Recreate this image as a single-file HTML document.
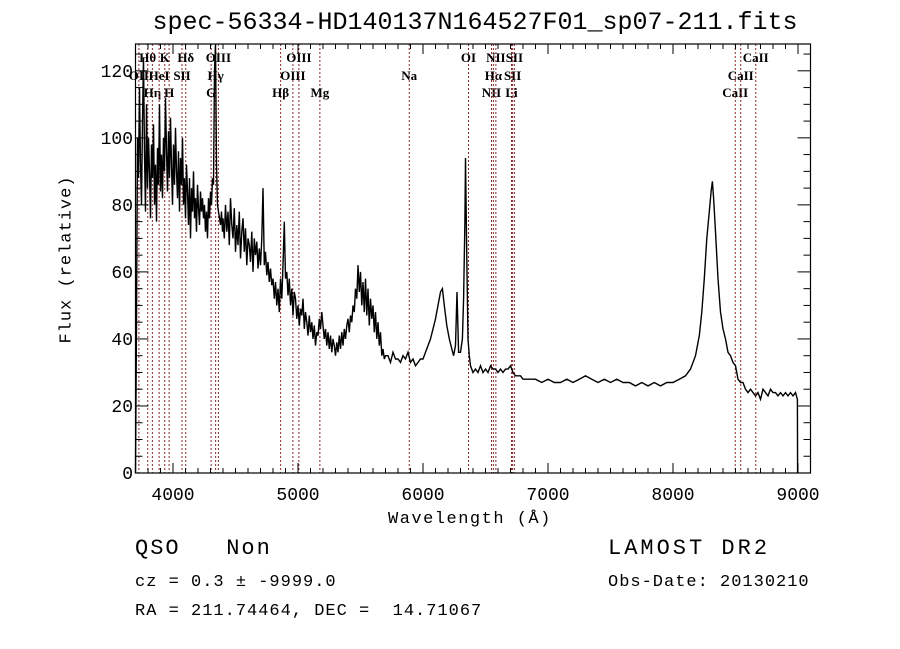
<!DOCTYPE html>
<html><head><meta charset="utf-8"><style>
html,body{margin:0;padding:0;background:#fff;}
svg{display:block;}
</style></head><body>
<svg id="chart" width="900" height="649" xmlns="http://www.w3.org/2000/svg"></svg>
<script>
// ---- data ----
const blueStart = 3700, blueStep = 8;
const blueFlux = [0,45,100,88,115,92,80,105,124,95,78,110,85,100,90,76,98,88,104,80,92,75,97,86,110,84,95,82,100,90,112,96,84,102,88,106,92,80,98,86,103,90,82,96,78,94,86,100,80,88,76,92,84,74,88,70,85,78,90,76,82,72,86,79,74,84,78,82,76,80,72,78,70,82,76,84,80,88,86,120,128,92,80,78,76,74,78,72];
const midStart = 4400, midStep = 10;
const midFlux = [76,70,80,72,78,68,82,74,70,79,66,
74,68,78,64,72,76,66,73,62,70,
68,63,72,60,70,65,69,61,67,62,
70,85,62,66,59,63,57,61,56,58,
52,57,50,55,48,58,52,62,75,58,
60,53,58,50,55,47,54,52,46,50,
44,49,47,52,43,48,45,41,47,42,
45,40,44,38,42,41,46,43,48,44,
40,43,38,42,37,41,36,40,38,35,
39,36,41,37,42,38,43,40,44,46,
42,47,45,50,48,55,52,62,54,60,
50,57,48,58,47,55,44,52,46,50,
42,48,40,45,38,42,35,37,34,35];
const redWave = [5720,5740,5760,5780,5800,5820,5840,5860,5880,5900,5920,5940,5960,5980,6000,6020,6040,6060,6080,6100,6120,6140,6155,6170,6190,6210,6230,6245,6260,6272,6285,6300,6315,6325,6335,6340,6345,6352,6360,6370,6380,6400,6420,6440,6460,6480,6500,6520,6540,6560,6580,6600,6620,6640,6660,6680,6700,6720,6740,6760,6780,6800,6850,6900,6950,7000,7050,7100,7150,7200,7250,7300,7350,7400,7450,7500,7550,7600,7650,7700,7750,7800,7850,7900,7950,8000,8050,8100,8140,8180,8210,8230,8250,8270,8290,8305,8315,8325,8340,8360,8380,8400,8420,8440,8460,8480,8500,8520,8540,8560,8580,8600,8620,8640,8660,8680,8700,8720,8740,8760,8780,8800,8820,8840,8860,8880,8900,8920,8940,8960,8980,8995,8997];
const redFlux = [35,33,36,34,34,33,35,34,36,33,34,32,33,34,34,36,38,40,43,46,50,54,55,50,44,40,37,35,38,54,36,36,40,52,75,94,80,60,40,35,32,30,31,30,32,30,31,30,32,31,31,30,31,30,31,31,32,30,29,29,29,28,28,28,27,28,27,27,28,27,28,29,28,27,28,27,28,27,27,26,27,26,27,26,27,27,28,29,31,35,41,48,58,70,78,84,87,82,72,58,48,43,40,36,35,33,32,28,27,27,25,24,25,24,23,24,22,25,24,23,25,24,24,23,24,23,24,23,24,23,24,22,0];
const lineNames = ["OII","Hθ","Hη","HeI","K","H","SII","Hδ","G","Hγ","OIII","Hβ","OIII","OIII","Mg","Na","OI","NII","Hα","NII","Li","SII","SII","CaII","CaII","CaII"];
const lineWaves = [3727,3798,3835,3889,3934,3969,4072,4102,4305,4341,4363,4861,4959,5007,5175,5890,6364,6548,6563,6583,6708,6717,6731,8498,8542,8662];
const lineRows  = [2,1,3,2,1,3,2,1,3,2,1,3,2,1,3,2,1,3,2,1,3,2,1,3,2,1];
const xTicks = [4000,5000,6000,7000,8000,9000];
const yTicks = [0,20,40,60,80,100,120];

// ---- axes ----
const L=135.5,R=810.5,T=44,B=473, X0=3700,X1=9100,Y0=0,Y1=128;
const sx=w=>L+(w-X0)/(X1-X0)*(R-L);
const sy=f=>B-(f-Y0)/(Y1-Y0)*(B-T);
const NS="http://www.w3.org/2000/svg";
const svg=document.getElementById('chart');
function mk(tag,attrs,parent){const e=document.createElementNS(NS,tag);for(const k in attrs)e.setAttribute(k,attrs[k]);(parent||svg).appendChild(e);return e;}

// spectral line markers
lineWaves.forEach((w,i)=>{
  const ln=mk('line',{x1:sx(w),x2:sx(w),y1:T,y2:B,stroke:'#8a2a2a','stroke-width':1,'stroke-dasharray':'2,2'});
  
  
  const t=mk('text',{x:sx(w),y:[0,62,80,97][lineRows[i]],'text-anchor':'middle','font-family':'Liberation Serif, serif','font-size':13,'font-weight':'bold'});
  t.textContent=lineNames[i];
  
  
});

// spectrum
let pts=[];
blueFlux.forEach((f,i)=>pts.push(sx(blueStart+i*blueStep).toFixed(1)+','+sy(f).toFixed(1)));
midFlux.forEach((f,i)=>pts.push(sx(midStart+i*midStep).toFixed(1)+','+sy(f).toFixed(1)));
redWave.forEach((w,i)=>pts.push(sx(w).toFixed(1)+','+sy(redFlux[i]).toFixed(1)));
const pl=mk('polyline',{points:pts.join(' '),fill:'none',stroke:'#000','stroke-width':1.4});



// frame
const fr=mk('rect',{x:L,y:T,width:R-L,height:B-T,fill:'none',stroke:'#000','stroke-width':1.2});



// x ticks
for(let w=3700;w<=9100;w+=100){
  const major=w%1000===0, len=major?10:5;
  mk('line',{x1:sx(w),x2:sx(w),y1:B,y2:B-len,stroke:'#000'});
  mk('line',{x1:sx(w),x2:sx(w),y1:T,y2:T+len,stroke:'#000'});
}
xTicks.forEach(w=>{
  const t=mk('text',{x:sx(w),y:500,'text-anchor':'middle','font-family':'Liberation Mono, monospace','font-size':18});
  t.textContent=w;
  
  
});
// y ticks
for(let f=0;f<=125;f+=5){
  const major=f%20===0, len=major?13:7;
  mk('line',{x1:L,x2:L+len,y1:sy(f),y2:sy(f),stroke:'#000'});
  mk('line',{x1:R,x2:R-len,y1:sy(f),y2:sy(f),stroke:'#000'});
}
yTicks.forEach(f=>{
  const t=mk('text',{x:133,y:sy(f)+6,'text-anchor':'end','font-family':'Liberation Mono, monospace','font-size':18});
  t.textContent=f;
  
  
});
</script>
<div style="position:absolute;left:0;top:0;width:900px;height:649px;pointer-events:none;font-family:'Liberation Mono',monospace;color:#000;">
  <div style="position:absolute;left:0;width:950px;text-align:center;top:8px;font-size:25px;">spec-56334-HD140137N164527F01_sp07-211.fits</div>
  <div style="position:absolute;left:388px;top:510px;font-size:17px;letter-spacing:1.5px;">Wavelength (Å)</div>
  <div style="position:absolute;left:-18px;top:250px;width:170px;text-align:center;font-size:17px;letter-spacing:1px;transform:rotate(-90deg);">Flux (relative)</div>
  <div style="position:absolute;left:135px;top:536px;font-size:22px;letter-spacing:2px;white-space:pre;">QSO   Non</div>
  <div style="position:absolute;left:135px;top:573px;font-size:17px;letter-spacing:1px;white-space:pre;">cz = 0.3 ± -9999.0</div>
  <div style="position:absolute;left:135px;top:602px;font-size:17px;letter-spacing:1px;white-space:pre;">RA = 211.74464, DEC =  14.71067</div>
  <div style="position:absolute;left:608px;top:536px;font-size:22px;letter-spacing:3px;">LAMOST DR2</div>
  <div style="position:absolute;left:608px;top:573px;font-size:17px;letter-spacing:1px;">Obs-Date: 20130210</div>
</div>
</body></html>
